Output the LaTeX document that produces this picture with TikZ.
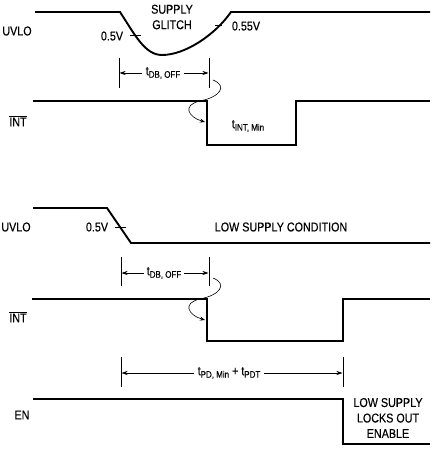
\documentclass[tikz,border=0pt]{standalone}
\usepackage{fontspec}
\setmainfont{Liberation Sans}[FakeStretch=0.84,FakeBold=0.3]
\usetikzlibrary{arrows.meta}
\newcommand{\sbs}[1]{\raisebox{-2.4pt}{\fontsize{9.5}{10}\selectfont #1}}
\begin{document}
\begin{tikzpicture}[x=1pt,y=-1pt,
  sig/.style={line width=1.9pt,line join=miter},
  thin/.style={line width=0.8pt},
  dim/.style={line width=0.7pt,-{Stealth[length=6pt,width=4pt]}},
  curv/.style={line width=0.6pt,-{Stealth[length=5pt,width=4pt]}},
  lbl/.style={font=\fontsize{12.8}{14}\selectfont,inner sep=0pt},
  lblm/.style={font=\fontsize{12.8}{15.5}\selectfont,inner sep=0pt,align=center}]
\useasboundingbox (0,0) rectangle (435,449);
% ---------- top UVLO ----------
\node[lbl] (uvloA) at (17,31) {UVLO};
\draw[sig] (35,12) -- (120,12) .. controls (135,35) and (145,55) .. (162,55)
  .. controls (185,55) and (215,35) .. (231,12) -- (430,12);
\draw[thin] (130,35) -- (141,35);
\draw[thin] (215,25) -- (222,25);
\node[lbl] (v05a) at (112,36) {0.5V};
\node[lbl] (v055) at (246,26) {0.55V};
\node[lblm] (glitch) at (172,17) {SUPPLY\\GLITCH};
% dimension tDB,OFF
\coordinate (m1t) at (119,58); \coordinate (m1b) at (119,88);
\coordinate (m2t) at (209,58); \coordinate (m2b) at (209,88);
\draw[thin] (m1t) -- (m1b); \draw[thin] (m2t) -- (m2b);
\node[lbl] (tdb1) at (163,73) {t\sbs{DB, OFF}};
\draw[dim] (tdb1.west) ++(-4,0) coordinate (a1) -- (119.5,73);
\draw[dim] (tdb1.east) ++(4,0) coordinate (a2) -- (208.5,73);
% INT top
\node[lbl] (intA) at (18,121) {$\overline{\mbox{INT}}$};
\draw[sig] (33,101) -- (207,101) -- (207,145) -- (296,145) -- (296,101) -- (430,101);
\node[lbl] (tint) at (248,126) {t\sbs{INT, Min}};
\coordinate (c1s) at (213,80); \coordinate (c1e) at (205,122);
\draw[curv] (c1s) .. controls (228,86) and (220,97) .. (200,101)
  .. controls (182,105) and (188,117) .. (c1e);
% ---------- second UVLO ----------
\node[lbl] (uvloB) at (16,227) {UVLO};
\draw[sig] (33,208) -- (107,208) -- (131,243) -- (430,243);
\draw[thin] (115,227) -- (126,227);
\node[lbl] (v05b) at (97,227) {0.5V};
\node[lbl] (lowsup) at (281,227) {LOW SUPPLY CONDITION};
\coordinate (m3t) at (121,257); \coordinate (m3b) at (121,286);
\coordinate (m4t) at (209,257); \coordinate (m4b) at (209,286);
\draw[thin] (m3t) -- (m3b); \draw[thin] (m4t) -- (m4b);
\node[lbl] (tdb2) at (164,273) {t\sbs{DB, OFF}};
\draw[dim] (tdb2.west) ++(-3,0) coordinate (b1) -- (121.5,273);
\draw[dim] (tdb2.east) ++(3,0) coordinate (b2) -- (208.5,273);
% INT second
\node[lbl] (intB) at (18,317) {$\overline{\mbox{INT}}$};
\draw[sig] (32,299) -- (207,299) -- (207,341) -- (343,341) -- (343,299) -- (430,299);
\coordinate (c2s) at (213,278); \coordinate (c2e) at (205,320);
\draw[curv] (c2s) .. controls (228,284) and (220,295) .. (200,299)
  .. controls (182,303) and (188,315) .. (c2e);
% tPD dimension
\coordinate (m5t) at (121,357); \coordinate (m5b) at (121,387);
\coordinate (m6t) at (343,357); \coordinate (m6b) at (343,387);
\draw[thin] (m5t) -- (m5b); \draw[thin] (m6t) -- (m6b);
\node[lbl] (tpd) at (229,373) {t\sbs{PD, Min} + t\sbs{PDT}};
\draw[dim] (tpd.west) ++(-4,0) coordinate (p1) -- (121.5,373);
\draw[dim] (tpd.east) ++(4,0) coordinate (p2) -- (342.5,373);
% EN
\node[lbl] (en) at (22,415) {EN};
\draw[sig] (33,399) -- (343,399) -- (343,444) -- (430,444);
\node[lblm] (lock) at (388,418) {LOW SUPPLY\\LOCKS OUT\\ENABLE};
\end{tikzpicture}
\end{document}
